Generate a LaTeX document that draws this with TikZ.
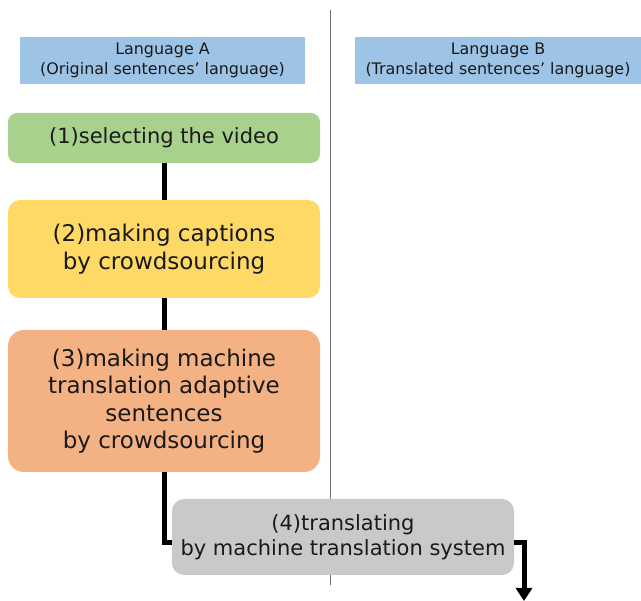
\documentclass[tikz,border=0pt]{standalone}
\usepackage{fontspec}
\setmainfont{DejaVu Sans}
\usetikzlibrary{arrows.meta,calc}
\definecolor{langblue}{HTML}{9DC3E6}
\definecolor{stepgreen}{HTML}{A9D18E}
\definecolor{stepyellow}{HTML}{FFD966}
\definecolor{steporange}{HTML}{F4B183}
\definecolor{stepgray}{HTML}{C9C9C9}
\definecolor{txt}{HTML}{1A1A1A}
\begin{document}
\begin{tikzpicture}[x=1pt,y=-1pt,
  langbox/.style={rectangle,fill=langblue,minimum width=285pt,minimum height=47pt,inner sep=0pt,align=center,text=txt,font=\fontsize{15.9}{19.5}\selectfont},
  stepbox/.style={rectangle,rounded corners=12pt,minimum width=312pt,inner sep=0pt,align=center,text=txt,font=\fontsize{23}{27.5}\selectfont},
  conn/.style={line width=5pt,black}]
\useasboundingbox (0,0) rectangle (641,601);
\coordinate (divtop) at (330,10);
\coordinate (divbot) at (330,585);
\draw[line width=1pt,black!55] (divtop) -- (divbot);
\node[langbox] (la) at (162.5,60.5) {Language A\\(Original sentences' language)};
\node[langbox,minimum width=286pt] (lb) at (498,60.5) {Language B\\(Translated sentences' language)};
\node[stepbox,fill=stepgreen,minimum height=50pt,rounded corners=9pt,font=\fontsize{21}{25}\selectfont] (b1) at (164,138) {(1)selecting the video};
\node[stepbox,fill=stepyellow,minimum height=98pt] (b2) at (164,249) {(2)making captions\\by crowdsourcing};
\node[stepbox,fill=steporange,minimum height=142pt,rounded corners=16pt] (b3) at (164,401) {(3)making machine\\translation adaptive\\sentences\\by crowdsourcing};
\draw[conn] (b1.south) -- (b2.north);
\draw[conn] (b2.south) -- (b3.north);
\node[stepbox,fill=stepgray,minimum width=342pt,minimum height=76pt,font=\fontsize{21}{25}\selectfont] (b4) at (343,537) {(4)translating\\by machine translation system};
\coordinate (endpt) at (524,601);
\draw[conn] (b3.south) |- ($(b4.west)+(0,6)$);
\draw[conn,-{Triangle[width=16pt,length=13pt]}] ($(b4.east)+(0,6)$) -| (endpt);
\end{tikzpicture}
\end{document}
